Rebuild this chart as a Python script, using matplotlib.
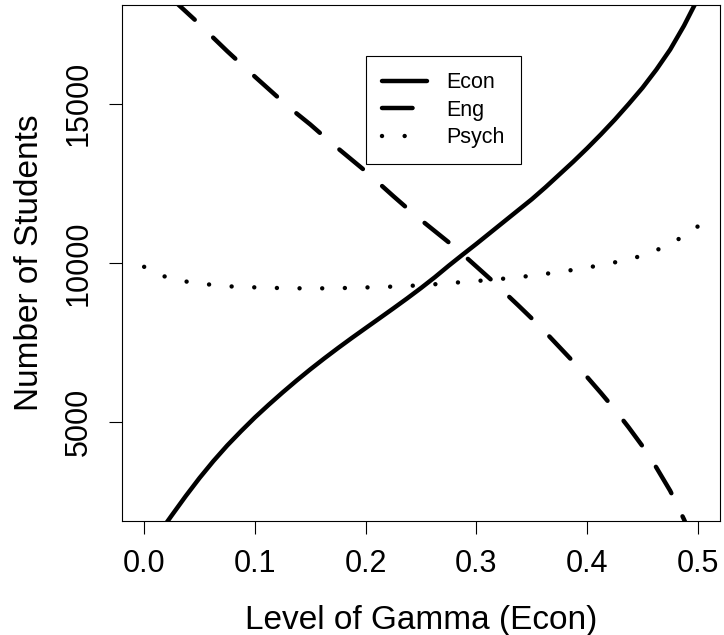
import matplotlib
matplotlib.use('Agg')
import matplotlib.pyplot as plt

plt.rcParams['font.family'] = ['Liberation Sans', 'DejaVu Sans']
plt.rcParams['lines.scale_dashes'] = False

# gamma grid and enrolment per major
gamma = [0.0, 0.0125, 0.025, 0.0375, 0.05, 0.0625, 0.075, 0.0875, 0.1, 0.1125,
         0.125, 0.1375, 0.15, 0.1625, 0.175, 0.1875, 0.2, 0.2125, 0.225, 0.2375,
         0.25, 0.2625, 0.275, 0.2875, 0.3, 0.3125, 0.325, 0.3375, 0.35, 0.3625,
         0.375, 0.3875, 0.4, 0.4125, 0.425, 0.4375, 0.45, 0.4625, 0.475, 0.4875, 0.5]
econ = [850, 1470, 2080, 2680, 3250, 3780, 4270, 4720, 5150, 5550,
        5935, 6305, 6660, 7000, 7328, 7646, 7956, 8264, 8574, 8889,
        9214, 9554, 9914, 10260, 10600, 10950, 11300, 11650, 12000, 12380,
        12780, 13180, 13600, 14040, 14500, 14990, 15500, 16070, 16700, 17450, 18300]
eng = [19100, 18700, 18300, 17900, 17500, 17070, 16650, 16250, 15850, 15460,
       15070, 14700, 14350, 13970, 13600, 13240, 12880, 12490, 12100, 11720,
       11350, 11000, 10650, 10280, 9890, 9500, 9090, 8680, 8260, 7820,
       7360, 6900, 6420, 5920, 5400, 4840, 4250, 3580, 2850, 1950, 900]
psych = [9880, 9650, 9500, 9420, 9360, 9310, 9270, 9250, 9235, 9222,
         9212, 9206, 9204, 9205, 9210, 9220, 9232, 9245, 9260, 9280,
         9300, 9333, 9370, 9400, 9434, 9470, 9510, 9555, 9600, 9660,
         9720, 9785, 9855, 9935, 10020, 10120, 10230, 10400, 10600, 10850, 11150]

labels = ['Econ', 'Eng', 'Psych']
xticks = [0.0, 0.1, 0.2, 0.3, 0.4, 0.5]
yticks = [5000, 10000, 15000]

fig = plt.figure(figsize=(7.24, 6.35), dpi=100)
ax = fig.add_axes([122 / 724, 114 / 635, 598 / 724, 516 / 635])

lw = 3.2
ax.plot(gamma, econ, color='black', lw=lw, solid_capstyle='round',
        solid_joinstyle='round', label=labels[0])
ax.plot(gamma, eng, color='black', lw=lw, dashes=(22, 18.5),
        dash_capstyle='round', label=labels[1])
ax.plot(gamma, psych, color='black', lw=lw, dashes=(0.01, 16.3),
        dash_capstyle='round', label=labels[2])

ax.set_xlim(-0.02, 0.52)
ax.set_ylim(1900, 18100)

ax.set_xticks(xticks)
ax.set_xticklabels(['%.1f' % t for t in xticks])
ax.set_yticks(yticks)
ax.set_yticklabels([str(t) for t in yticks])
ax.tick_params(direction='out', length=9.4, width=0.8, labelsize=22, pad=11)
for lab in ax.get_yticklabels():
    lab.set_rotation(90)
    lab.set_va('center')

for sp in ax.spines.values():
    sp.set_linewidth(0.8)

fig.text(421 / 724, 1 - 620 / 635, 'Level of Gamma (Econ)', ha='center', va='center', fontsize=24)
fig.text(30 / 724, 1 - 263 / 635, 'Number of Students', ha='center', va='center',
         rotation=90, fontsize=24)

leg = ax.legend(loc='upper left', bbox_to_anchor=(0.408, 0.901), borderaxespad=0,
                fontsize=15.5, handlelength=2.1, handletextpad=0.9, labelspacing=0.3,
                borderpad=0.75, fancybox=False, framealpha=1, edgecolor='black')
leg.get_frame().set_linewidth(0.8)

fig.savefig('out.png', dpi=100)
